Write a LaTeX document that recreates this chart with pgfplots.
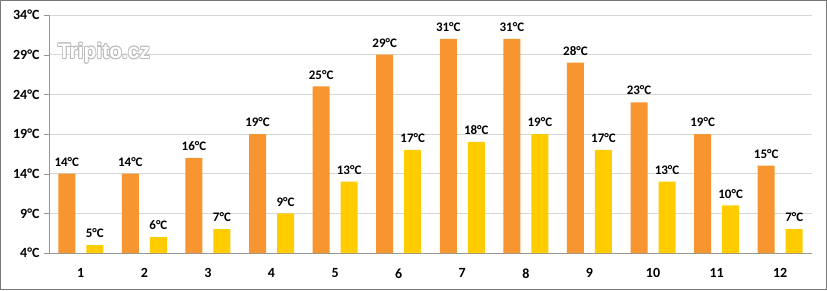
\documentclass[border=0pt]{standalone}
\usepackage{pgfplots}
\pgfplotsset{compat=1.18}
\usepackage{fontspec}
\setmainfont{Carlito}
\newfontfamily\wmfont{Liberation Sans}
\definecolor{barorange}{RGB}{247,150,48}
\definecolor{baryellow}{RGB}{255,204,0}
\definecolor{gridgray}{RGB}{215,215,215}
\definecolor{axgray}{RGB}{150,150,150}
\begin{document}
\begin{tikzpicture}
\useasboundingbox (-49pt,-37pt) rectangle (778pt,253pt);
\draw[axgray!80!black, line width=1pt] (-48.5pt,-36.5pt) rectangle (777.5pt,252.5pt);
\begin{axis}[
  at={(0,0)}, anchor=south west,
  scale only axis, width=763pt, height=238pt,
  xmin=0.5, xmax=12.5, ymin=4, ymax=34,
  ybar=11pt, bar width=17pt,
  axis x line*=bottom, axis y line*=left,
  axis line style={axgray, -},
  xtick={1,...,12},
  major x tick style={draw=none},
  extra x ticks={0.5,1.5,...,12.5},
  extra x tick labels={},
  extra x tick style={major tick length=5pt, tick style={axgray}, grid=none},
  ytick={4,9,...,34},
  yticklabel={\pgfmathprintnumber{\tick}°C},
  tick align=outside,
  major tick length=5pt,
  tick style={axgray},
  ymajorgrids, grid style={gridgray, line width=0.8pt},
  tick label style={font=\bfseries\fontsize{14}{16}\selectfont},
  /pgf/number format/assume math mode=true,
  xticklabel style={yshift=-7pt},
  yticklabel style={xshift=-1pt},
  nodes near coords={\pgfmathprintnumber{\pgfplotspointmeta}°C},
  nodes near coords style={font=\bfseries\fontsize{13}{15}\selectfont, black, inner sep=0pt, anchor=south, yshift=7pt},
  clip=false,
]
\addplot[fill=barorange, draw=none] coordinates {(1,14)(2,14)(3,16)(4,19)(5,25)(6,29)(7,31)(8,31)(9,28)(10,23)(11,19)(12,15)};
\addplot[fill=baryellow, draw=none] coordinates {(1,5)(2,6)(3,7)(4,9)(5,13)(6,17)(7,18)(8,19)(9,17)(10,13)(11,10)(12,7)};
\end{axis}
\foreach \dx/\dy in {-0.8/0,0.8/0,0/-0.8,0/0.8,0.6/-0.6,-0.6/0.6,0.6/0.6,-0.6/-0.6}{
  \node[text=gray!55, font=\wmfont\bfseries\fontsize{21}{23}\selectfont] at (55pt+\dx pt,200pt+\dy pt) {Tripito.cz};
}
\node[text=white, font=\wmfont\bfseries\fontsize{21}{23}\selectfont] at (55pt,200pt) {Tripito.cz};
\end{tikzpicture}
\end{document}
